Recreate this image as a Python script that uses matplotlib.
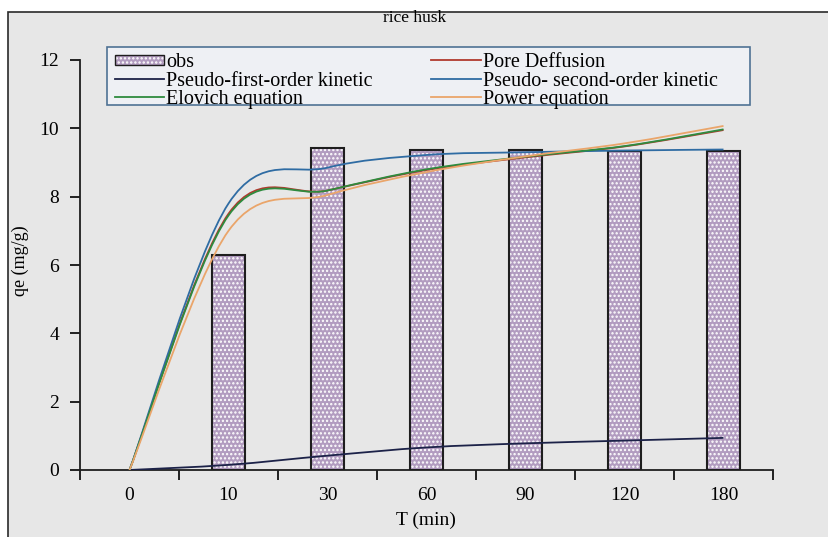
import numpy as np
import matplotlib
matplotlib.use('Agg')
import matplotlib.pyplot as plt
from matplotlib.path import Path
from matplotlib.patches import PathPatch, Rectangle
from matplotlib.lines import Line2D

plt.rcParams['font.family'] = ['Liberation Serif', 'DejaVu Serif']
plt.rcParams['hatch.linewidth'] = 1.1

# contact time categories (min)
times = ['0', '10', '30', '60', '90', '120', '180']

# measured uptake, no bar at t = 0
obs = [6.3, 9.42, 9.38, 9.38, 9.35, 9.35]

# model curves, one value per category
pore = [0, 7.5, 8.18, 8.78, 9.15, 9.47, 9.95]
first_order = [0, 0.15, 0.42, 0.66, 0.78, 0.86, 0.94]
second_order = [0, 7.8, 8.85, 9.22, 9.3, 9.35, 9.38]
elovich = [0, 7.45, 8.18, 8.8, 9.17, 9.48, 9.97]
power = [0, 7.0, 8.05, 8.72, 9.18, 9.56, 10.07]

BAR_FACE = '#b29cc0'
W, H = 829, 537


def smooth_path(xs, ys):
    # bezier through the points, catmull-rom control points
    pts = np.column_stack([xs, ys]).astype(float)
    n = len(pts)
    verts = [pts[0]]
    codes = [Path.MOVETO]
    for i in range(n - 1):
        p0 = pts[max(i - 1, 0)]
        p1 = pts[i]
        p2 = pts[i + 1]
        p3 = pts[min(i + 2, n - 1)]
        verts += [p1 + (p2 - p0) / 6.0, p2 - (p3 - p1) / 6.0, p2]
        codes += [Path.CURVE4] * 3
    return Path(verts, codes)


def fx(px):
    return px / W


def fy(py):
    return 1 - py / H


fig = plt.figure(figsize=(W / 100, H / 100), dpi=100, facecolor='white')

# chart area frame
fig.patches.append(Rectangle((fx(8), -0.05), 1.1, fy(12) + 0.05,
                             transform=fig.transFigure, facecolor='#e7e7e7',
                             edgecolor='#2a2a2a', lw=1.2, zorder=-5))

ax = fig.add_axes([fx(80), fy(470), fx(773) - fx(80), fy(60) - fy(470)])
ax.set_facecolor('none')
ax.set_xlim(-0.5, len(times) - 0.5)
ax.set_ylim(0, 12)

x = np.arange(len(times))
bx = x[1:]
ax.bar(bx, obs, width=0.33, color=BAR_FACE, edgecolor='white', hatch='....',
       lw=0, zorder=2)
ax.bar(bx, obs, width=0.33, fill=False, edgecolor='#1e1e1e', lw=1.5, zorder=2.5)

series = [
    ('Pore Deffusion', pore, '#b03a2e'),
    ('Pseudo-first-order kinetic', first_order, '#1c2248'),
    ('Pseudo- second-order kinetic', second_order, '#2f6ca3'),
    ('Elovich equation', elovich, '#2e8b3e'),
    ('Power equation', power, '#eaa56a'),
]
colors = {}
for name, vals, col in series:
    ax.add_patch(PathPatch(smooth_path(x, vals), fill=False, edgecolor=col,
                           lw=1.3, zorder=3))
    colors[name] = col

ax.set_yticks(np.arange(0, 13, 2))
ax.set_xticks(x)
ax.set_xticklabels(times)
ax.set_xticks(np.arange(-0.5, len(times), 1.0), minor=True)
ax.tick_params(axis='x', which='major', length=0, pad=12, labelsize=14)
ax.tick_params(axis='x', which='minor', length=7, width=1.2, direction='out')
ax.tick_params(axis='y', length=7, width=1.2, direction='out', pad=8, labelsize=14)
for s in ['top', 'right']:
    ax.spines[s].set_visible(False)
for s in ['left', 'bottom']:
    ax.spines[s].set_linewidth(1.3)
    ax.spines[s].set_color('#1e1e1e')

fig.text(fx(415), fy(18), 'rice husk', ha='center', va='center', fontsize=12.5)
fig.text(fx(426), fy(520), 'T (min)', ha='center', va='center', fontsize=14)
fig.text(fx(20), fy(261), 'qe (mg/g)', ha='center', va='center',
         rotation=90, fontsize=13)

# legend box laid out by hand: two columns, three rows
fig.patches.append(Rectangle((fx(107), fy(105)), fx(750) - fx(107), fy(47) - fy(105),
                             transform=fig.transFigure, facecolor='#eef0f4',
                             edgecolor='#4f7294', lw=1.2, zorder=4))
rows = [60, 79, 97]
cols = [(115, 164), (431, 481)]
entries = [
    [('obs', None), ('Pseudo-first-order kinetic', colors['Pseudo-first-order kinetic']),
     ('Elovich equation', colors['Elovich equation'])],
    [('Pore Deffusion', colors['Pore Deffusion']),
     ('Pseudo- second-order kinetic', colors['Pseudo- second-order kinetic']),
     ('Power equation', colors['Power equation'])],
]
for (x0, x1), col_entries in zip(cols, entries):
    for ry, (label, col) in zip(rows, col_entries):
        if col is None:
            for kw in (dict(facecolor=BAR_FACE, edgecolor='white', hatch='....', lw=0),
                       dict(fill=False, edgecolor='#1e1e1e', lw=1.0)):
                fig.patches.append(Rectangle((fx(x0), fy(ry + 5)), fx(x1) - fx(x0),
                                             fy(ry - 5) - fy(ry + 5),
                                             transform=fig.transFigure, zorder=5, **kw))
        else:
            fig.lines.append(Line2D([fx(x0), fx(x1)], [fy(ry), fy(ry)], color=col,
                                    lw=1.3, transform=fig.transFigure, zorder=5))
        fig.text(fx(x1 + 2), fy(ry), label, ha='left', va='center_baseline',
                 fontsize=14.5, zorder=6)

fig.savefig('out.png', dpi=100, facecolor=fig.get_facecolor())
